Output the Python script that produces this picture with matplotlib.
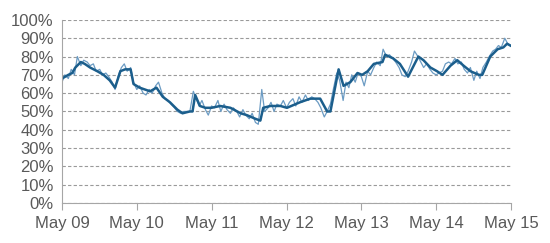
import numpy as np
import pandas as pd
import matplotlib
matplotlib.use('Agg')
import matplotlib.pyplot as plt
import matplotlib.dates as mdates
from matplotlib.ticker import PercentFormatter

plt.rcParams['font.family'] = ['Liberation Sans', 'DejaVu Sans']

# thin line: semi-monthly readings (1st and 15th), May 09 - May 15
thin_vals = [
    66, 70, 68, 73, 70, 80, 75, 78, 77, 75, 76, 72,   # May09-Oct09
    73, 70, 71, 69, 66, 62, 70, 74, 76, 72, 74, 66,   # Nov09-Apr10
    62, 64, 60, 59, 62, 60, 64, 66, 60, 57, 56, 54,   # May10-Oct10
    52, 50, 49, 50, 50, 50, 61, 57, 53, 56, 51, 48,   # Nov10-Apr11
    53, 52, 56, 50, 54, 51, 49, 52, 50, 47, 51, 48,   # May11-Oct11
    46, 49, 44, 43, 62, 50, 52, 55, 50, 54, 53, 56,   # Nov11-Apr12
    52, 55, 57, 53, 58, 55, 59, 56, 58, 57, 55, 52,   # May12-Oct12
    47, 50, 54, 62, 71, 67, 56, 66, 63, 70, 66, 71,   # Nov12-Apr13
    69, 64, 72, 70, 74, 77, 75, 84, 80, 81, 79, 77,   # May13-Oct13
    74, 70, 69, 72, 77, 83, 80, 77, 74, 76, 73, 71,   # Nov13-Apr14
    70, 71, 72, 76, 77, 76, 79, 76, 77, 73, 71, 74,   # May14-Oct14
    67, 72, 68, 74, 77, 80, 83, 84, 86, 85, 90, 87,   # Nov14-Apr15
    86,                                               # May15
]
thin_dates = pd.date_range('2009-05-01', '2015-05-01', freq='SMS')

# thick line: smoothed series
thick_dates = pd.to_datetime([
    '2009-05-01', '2009-06-01', '2009-06-20', '2009-07-05', '2009-08-01',
    '2009-08-20', '2009-09-15', '2009-10-20', '2009-11-20', '2009-12-20',
    '2010-01-15', '2010-02-10', '2010-03-05', '2010-04-01', '2010-04-15',
    '2010-05-15', '2010-07-05', '2010-08-05', '2010-09-05', '2010-10-10',
    '2010-11-15', '2010-12-10', '2011-01-15', '2011-01-28', '2011-02-10',
    '2011-03-05', '2011-04-01', '2011-05-01', '2011-06-12', '2011-08-01',
    '2011-09-20', '2011-10-20', '2011-12-01', '2011-12-25', '2012-01-08',
    '2012-02-12', '2012-04-01', '2012-05-03', '2012-07-05', '2012-08-25',
    '2012-10-12', '2012-11-15', '2012-12-01', '2013-01-10', '2013-02-03',
    '2013-03-08', '2013-04-12', '2013-05-05', '2013-06-01', '2013-07-01',
    '2013-08-12', '2013-08-25', '2013-10-03', '2013-11-05', '2013-12-15',
    '2014-02-03', '2014-02-28', '2014-04-03', '2014-05-05', '2014-06-01',
    '2014-07-10', '2014-08-12', '2014-09-12', '2014-10-15', '2014-11-25',
    '2014-12-12', '2015-01-20', '2015-02-25', '2015-03-25', '2015-04-12',
    '2015-04-28',
])
thick_vals = [
    68, 70, 71, 74, 77,
    76, 74, 72, 70, 67,
    63, 72, 73, 73, 65,
    63, 61, 63, 58, 55,
    51, 49, 50, 50, 59,
    53, 52, 52, 53, 52,
    49, 48, 46, 45, 52,
    53, 53, 52, 55, 57,
    57, 50, 50, 73, 64,
    66, 71, 70, 72, 76,
    77, 81, 79, 76, 69,
    80, 78, 74, 72, 70,
    75, 78, 75, 72, 70,
    70, 80, 84, 85, 87,
    86,
]

fig = plt.figure(figsize=(5.5, 2.43), dpi=100)
ax = fig.add_axes([0.1127, 0.1646, 0.929 - 0.1127, 0.918 - 0.1646])

ax.plot(thin_dates, np.array(thin_vals) / 100, color='#6b9bc3', lw=0.9)
ax.plot(thick_dates, np.array(thick_vals) / 100, color='#1b5e8c', lw=1.8)

ax.set_xlim(pd.Timestamp('2009-05-01'), pd.Timestamp('2015-05-01'))
ax.set_ylim(0, 1)
ax.set_yticks(np.arange(0, 1.01, 0.1))
ax.yaxis.set_major_formatter(PercentFormatter(1.0, decimals=0))
ax.xaxis.set_major_locator(mdates.MonthLocator(bymonth=5))
ax.xaxis.set_major_formatter(mdates.DateFormatter('May %y'))

ax.grid(axis='y', color='#9a9a9a', linestyle=(0, (3, 2)), lw=0.8)
ax.set_axisbelow(True)
for s in ['top', 'right']:
    ax.spines[s].set_visible(False)
for s in ['left', 'bottom']:
    ax.spines[s].set_color('#a6a6a6')
ax.tick_params(axis='y', length=0, pad=6, labelsize=12, labelcolor='#595959')
ax.tick_params(axis='x', length=5, color='#a6a6a6', pad=4, labelsize=12, labelcolor='#595959')

fig.savefig('out.png', dpi=100)
